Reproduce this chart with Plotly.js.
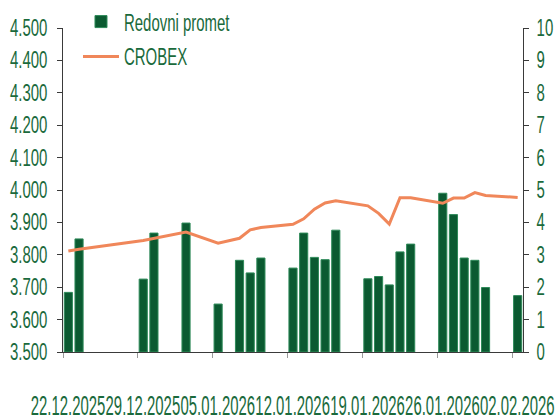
<!DOCTYPE html>
<html>
<head>
<meta charset="utf-8">
<script src="https://cdn.plot.ly/plotly-3.0.1.min.js"></script>
<style>
html,body{margin:0;padding:0;background:#fff;}
#chart{width:557px;height:419px;}
</style>
</head>
<body>
<div id="chart"></div>
<script>
const dates = ['2025-12-22','2025-12-23','2025-12-29','2025-12-30','2026-01-02','2026-01-05','2026-01-07','2026-01-08','2026-01-09',
  '2026-01-12','2026-01-13','2026-01-14','2026-01-15','2026-01-16',
  '2026-01-19','2026-01-20','2026-01-21','2026-01-22','2026-01-23',
  '2026-01-26','2026-01-27','2026-01-28','2026-01-29','2026-01-30','2026-02-02'];
const redovniPromet = [1.84,3.49,2.25,3.67,3.98,1.48,2.83,2.44,2.90,
  2.59,3.67,2.92,2.85,3.76,
  2.26,2.33,2.07,3.09,3.33,
  4.90,4.24,2.90,2.83,1.99,1.74];
const crobex = [3812,3817,3844,3850,3870,3836,3851,3877,3884,
  3894,3911,3941,3960,3967,
  3951,3928,3895,3976,3976,
  3959,3975,3975,3992,3983,3977];
const tickDates = ['2025-12-22','2025-12-29','2026-01-05','2026-01-12','2026-01-19','2026-01-26','2026-02-02'];
const tickLabels = ['22.12.2025','29.12.2025','05.01.2026','12.01.2026','19.01.2026','26.01.2026','02.02.2026'];

const DAY = 86400000;
function shift(d, ms){ const t = new Date(d + 'T00:00:00Z').getTime() + ms; return new Date(t).toISOString().replace('T',' ').slice(0,19); }
const tickEdges = tickDates.map(d => shift(d, -DAY/2));

const FONT = 'Liberation Sans, Arial, sans-serif';
const TXT = '#1a6a3c';
const AX = '#3a3a3a';

const traces = [
  {
    type: 'bar', name: 'Redovni promet', x: dates, y: redovniPromet,
    xaxis: 'x', yaxis: 'y',
    marker: {color: '#0b5a31', line: {color: '#2e8a59', width: 1}},
    legendgroup: 'a'
  },
  {
    type: 'scatter', mode: 'lines', name: 'CROBEX', x: dates, y: crobex,
    xaxis: 'x', yaxis: 'y2',
    line: {color: '#f0875a', width: 3},
    legendgroup: 'b'
  }
];

const layout = {
  width: 557, height: 419,
  margin: {l: 63, r: 34, t: 28, b: 67, pad: 0, autoexpand: false},
  paper_bgcolor: '#fff', plot_bgcolor: '#fff',
  separators: ',.',
  font: {family: FONT, color: TXT, size: 23},
  bargap: 0.24,
  showlegend: true,
  legend: {
    x: 0.0326, y: 1.086, xanchor: 'left', yanchor: 'top',
    bgcolor: 'rgba(0,0,0,0)', font: {family: FONT, size: 23, color: TXT},
    traceorder: 'grouped', tracegroupgap: 2, itemwidth: 36
  },
  xaxis: {
    type: 'date',
    range: [shift(tickDates[0], -DAY/2), shift(tickDates[tickDates.length-1], DAY/2)],
    tickmode: 'array', tickvals: tickEdges, ticktext: tickLabels,
    tickangle: 0, ticklabeloverflow: 'allow',
    ticklabelshift: 5, ticklabelstandoff: 25,
    ticks: 'outside', ticklen: 5, tickcolor: '#9a9a9a', tickwidth: 1,
    showline: true, linecolor: AX, linewidth: 1,
    showgrid: false, zeroline: false,
    tickfont: {family: FONT, size: 27, color: TXT}
  },
  yaxis: {
    side: 'right', range: [0, 10], dtick: 1, tick0: 0,
    ticks: 'outside', ticklen: 5, tickcolor: AX,
    showline: true, linecolor: AX, linewidth: 1,
    showgrid: false, zeroline: false,
    ticklabelstandoff: 3, ticklabeloverflow: 'allow',
    tickfont: {family: FONT, size: 23, color: TXT}
  },
  yaxis2: {
    overlaying: 'y', side: 'left', range: [3500, 4500], dtick: 100, tick0: 3500,
    tickformat: ',d',
    ticks: 'outside', ticklen: 5, tickcolor: AX,
    showline: true, linecolor: AX, linewidth: 1,
    showgrid: false, zeroline: false,
    ticklabelstandoff: 5, ticklabeloverflow: 'allow',
    tickfont: {family: FONT, size: 23, color: TXT}
  }
};

function squeeze(sel, factor){
  document.querySelectorAll(sel).forEach(t => {
    const w = t.getComputedTextLength();
    if (w > 0) {
      t.setAttribute('textLength', (w * factor).toFixed(2));
      t.setAttribute('lengthAdjust', 'spacingAndGlyphs');
    }
  });
}

Plotly.newPlot('chart', traces, layout, {staticPlot: true, displayModeBar: false}).then(() => {
  squeeze('#chart .xtick text', 0.552);
  squeeze('#chart .ytick text', 0.65);
  squeeze('#chart .y2tick text', 0.65);
  squeeze('#chart .legendtext', 0.65);
});
</script>
</body>
</html>
